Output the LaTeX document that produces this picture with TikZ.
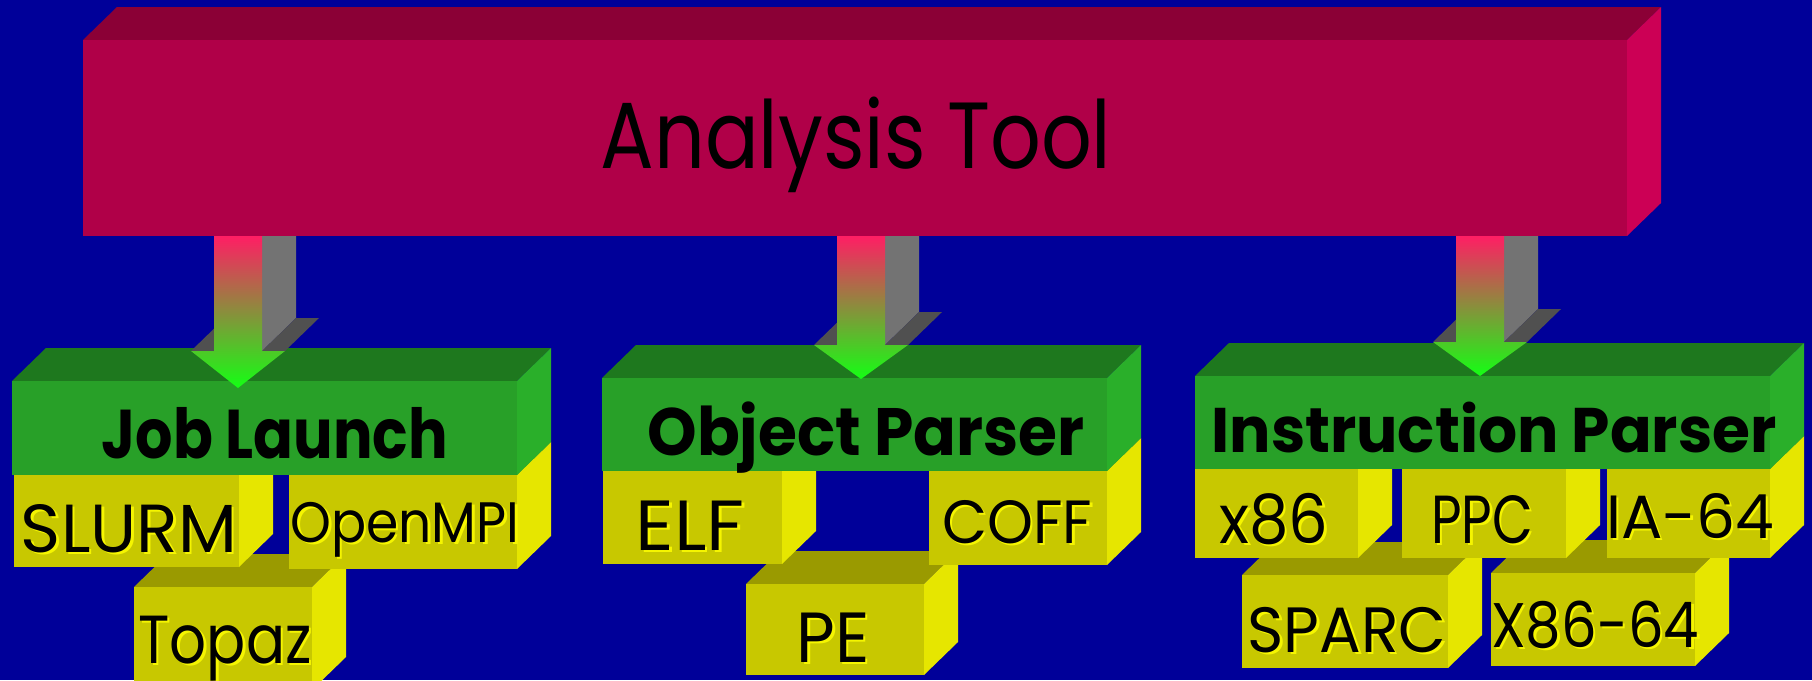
\documentclass[tikz,border=0pt]{standalone}
\usepackage{fontspec}
\usepackage{graphicx}
\newfontfamily\cf{Poppins}
\definecolor{bg}{RGB}{0,0,153}
\definecolor{redfront}{RGB}{176,0,72}
\definecolor{redtop}{RGB}{139,0,54}
\definecolor{redside}{RGB}{204,0,85}
\definecolor{grnfront}{RGB}{40,160,40}
\definecolor{grntop}{RGB}{30,120,30}
\definecolor{grnside}{RGB}{42,175,42}
\definecolor{ylwfront}{RGB}{200,200,0}
\definecolor{ylwtop}{RGB}{154,154,0}
\definecolor{ylwside}{RGB}{230,230,0}
\definecolor{shadowy}{RGB}{245,245,0}
\definecolor{arrside}{RGB}{115,115,115}
\definecolor{arrtop}{RGB}{80,80,80}
\definecolor{arrpink}{RGB}{255,30,100}
\definecolor{arrmid}{RGB}{200,165,75}
\definecolor{arrgreen}{RGB}{20,255,20}
\newcommand\cuboid[5]{%
  \fill[#5top] (#1,#2) -- (#1+34,#2-33) -- (#3+34,#2-33) -- (#3,#2) -- cycle;
  \fill[#5side] (#3,#2) -- (#3+34,#2-33) -- (#3+34,#4-33) -- (#3,#4) -- cycle;
  \fill[#5front] (#1,#2) rectangle (#3,#4);
}
\newcommand\barrow[3]{%
  \fill[arrside] (#1+24,236) -- (#1+58,236) -- (#1+58,#2-33) -- (#1+24,#2) -- cycle;
  \fill[arrtop] (#1+24,#2) -- (#1+47,#2) -- (#1+81,#2-33) -- (#1+58,#2-33) -- cycle;
  \fill[arrtop] (#1-47,#2) -- (#1-24,#2) -- (#1+10,#2-33) -- (#1-13,#2-33) -- cycle;
  \shade[top color=arrpink, middle color=arrmid, bottom color=arrgreen]
    (#1-24,236) -- (#1+24,236) -- (#1+24,#2) -- (#1+47,#2) -- (#1,#3) -- (#1-47,#2) -- (#1-24,#2) -- cycle;
}
\newcommand\lab[6]{%
  \node[lbl, text=shadowy] at (#2+2.5,#3+2.5) {\fontsize{#4}{#4}\selectfont\resizebox{#5pt}{\height}{#6}};
  \node[lbl] (#1) at (#2,#3) {\fontsize{#4}{#4}\selectfont\resizebox{#5pt}{\height}{#6}};
}
\newcommand\ttl[6]{%
  \node[lbl] (#1) at (#2,#3) {\fontsize{#4}{#4}\selectfont\resizebox{#5pt}{\height}{#6}};
}
\tikzset{lbl/.style={anchor=base, inner sep=0pt, outer sep=0pt, text=black, font=\cf}}
\begin{document}
\begin{tikzpicture}[x=1pt,y=-1pt]
\useasboundingbox (0,0) rectangle (1812,680);
\fill[bg] (0,0) rectangle (1812,680);
% top box
\cuboid{83}{40}{1627}{236}{red}
\ttl{analysis}{856}{168}{94}{511}{Analysis Tool}
% group 1
\cuboid{134}{587}{312}{690}{ylw}
\cuboid{14}{475}{239}{567}{ylw}
\cuboid{289}{475}{517}{569}{ylw}
\cuboid{12}{381}{517}{475}{grn}
\barrow{238}{351}{388}
\ttl{job}{275}{458}{69}{346}{\bfseries Job Launch}
\lab{slurm}{129}{552}{68}{216}{SLURM}
\lab{openmpi}{405}{542}{57}{229}{OpenMPI}
\lab{topaz}{225}{663}{68}{173}{Topaz}
% group 2
\cuboid{746}{584}{924}{675}{ylw}
\cuboid{603}{471}{782}{564}{ylw}
\cuboid{929}{471}{1107}{565}{ylw}
\cuboid{602}{378}{1107}{471}{grn}
\barrow{861}{345}{379}
\ttl{object}{866}{455}{67}{437}{\bfseries Object Parser}
\lab{elf}{690}{550}{71}{109}{ELF}
\lab{coff}{1017}{543}{61}{150}{COFF}
\lab{pe}{833}{662}{71}{73}{PE}
% group 3
\cuboid{1242}{575}{1448}{668}{ylw}
\cuboid{1491}{573}{1695}{666}{ylw}
\cuboid{1195}{469}{1358}{558}{ylw}
\cuboid{1402}{469}{1566}{558}{ylw}
\cuboid{1607}{469}{1770}{558}{ylw}
\cuboid{1195}{376}{1770}{469}{grn}
\barrow{1480}{342}{376}
\ttl{instr}{1494}{452}{63}{565}{\bfseries Instruction Parser}
\lab{x86}{1274}{543}{68}{109}{x86}
\lab{ppc}{1482}{543}{68}{102}{PPC}
\lab{ia64}{1690}{538}{61}{168}{IA-64}
\lab{sparc}{1347}{652}{64}{199}{SPARC}
\lab{x8664}{1595}{647}{63}{208}{X86-64}
\end{tikzpicture}
\end{document}
